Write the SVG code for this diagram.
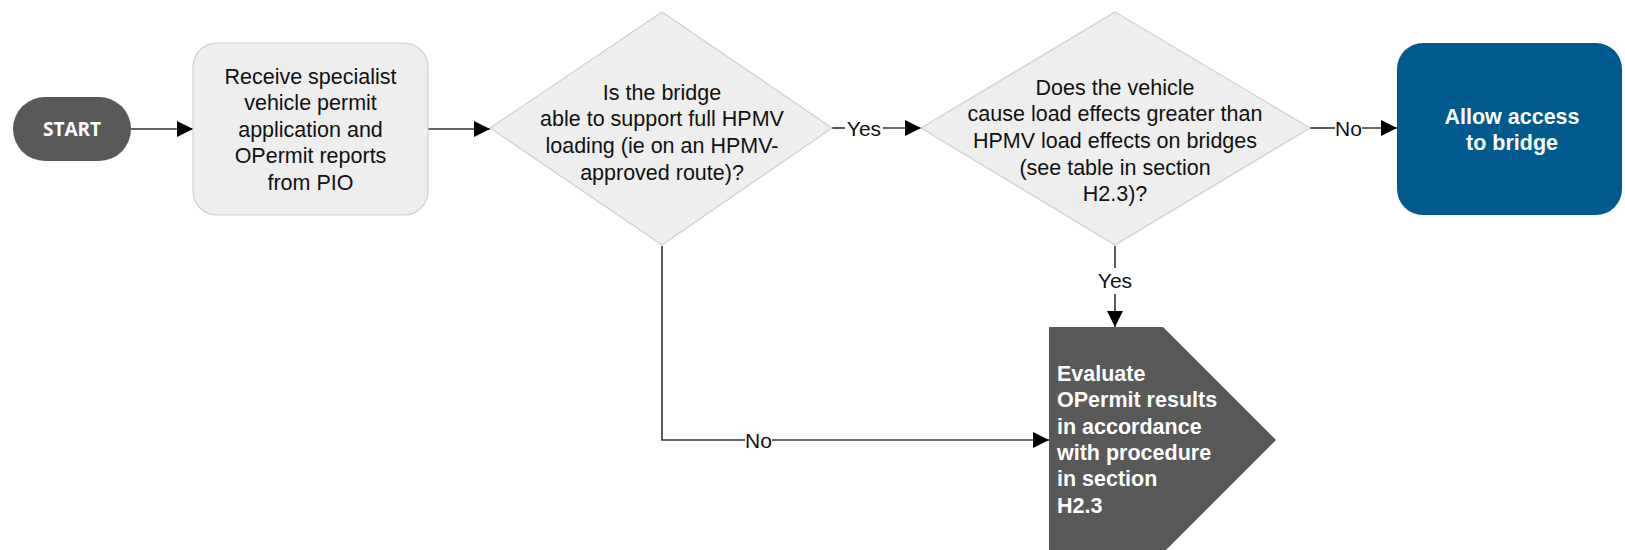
<svg xmlns="http://www.w3.org/2000/svg" width="1625" height="550" viewBox="0 0 1625 550">
<style>
.t{font-family:"Liberation Sans",Arial,sans-serif;font-size:21.5px;fill:#111;text-anchor:middle}
.w{font-family:"Liberation Sans",Arial,sans-serif;font-size:21.5px;font-weight:bold;fill:#fff}
.lbl{font-family:"Liberation Sans",Arial,sans-serif;font-size:21px;fill:#111;text-anchor:middle}
.light{fill:#eeeeee;stroke:#cfcfcf;stroke-width:1.2}
.ln{stroke:#333;stroke-width:1.6;fill:none}
</style>
<defs>
<marker id="ah" viewBox="0 0 16 16" refX="16" refY="8" markerWidth="16" markerHeight="16" markerUnits="userSpaceOnUse" orient="auto">
<path d="M0,0 L16,8 L0,16 Z" fill="#000"/>
</marker>
</defs>
<rect width="1625" height="550" fill="#fff"/>
<g id="connectors">
<line class="ln" x1="131" y1="129" x2="193" y2="129" marker-end="url(#ah)"/>
<line class="ln" x1="428" y1="129" x2="490" y2="129" marker-end="url(#ah)"/>
<line class="ln" x1="832" y1="128" x2="845" y2="128"/>
<text class="lbl" x="864" y="135.5">Yes</text>
<line class="ln" x1="883" y1="128" x2="921" y2="128" marker-end="url(#ah)"/>
<line class="ln" x1="1310" y1="128" x2="1335" y2="128"/>
<text class="lbl" x="1348.5" y="135.5">No</text>
<line class="ln" x1="1362" y1="128" x2="1397" y2="128" marker-end="url(#ah)"/>
<line class="ln" x1="1115" y1="246" x2="1115" y2="268"/>
<text class="lbl" x="1115" y="287.5">Yes</text>
<line class="ln" x1="1115" y1="294" x2="1115" y2="327" marker-end="url(#ah)"/>
<polyline class="ln" points="662,246 662,440 745,440"/>
<text class="lbl" x="758.5" y="447.5">No</text>
<line class="ln" x1="772" y1="440" x2="1049" y2="440" marker-end="url(#ah)"/>
</g>
<g id="start">
<rect x="13" y="97" width="118" height="64" rx="32" fill="#595959"/>
<text x="72" y="135.5" font-family="'Open Sans',sans-serif" font-size="19" font-weight="bold" fill="#fff" text-anchor="middle">START</text>
</g>
<g id="receive">
<rect class="light" x="193" y="43" width="235" height="172" rx="24"/>
<text class="t"><tspan x="310.5" y="83.5">Receive specialist</tspan><tspan x="310.5" y="110">vehicle permit</tspan><tspan x="310.5" y="136.5">application and</tspan><tspan x="310.5" y="163">OPermit reports</tspan><tspan x="310.5" y="189.5">from PIO</tspan></text>
</g>
<g id="decision1">
<polygon class="light" points="662,12 832,128 662,245 490,128"/>
<text class="t"><tspan x="662" y="99.5">Is the bridge</tspan><tspan x="662" y="125.5">able to support full HPMV</tspan><tspan x="662" y="152.5">loading (ie on an HPMV-</tspan><tspan x="662" y="179.5">approved route)?</tspan></text>
</g>
<g id="decision2">
<polygon class="light" points="1115,12 1310,128 1115,245 921,128"/>
<text class="t"><tspan x="1115" y="94.5">Does the vehicle</tspan><tspan x="1115" y="120.5">cause load effects greater than</tspan><tspan x="1115" y="147.5">HPMV load effects on bridges</tspan><tspan x="1115" y="174.5">(see table in section</tspan><tspan x="1115" y="200.5">H2.3)?</tspan></text>
</g>
<g id="allow">
<rect x="1397" y="43" width="225" height="172" rx="26" fill="#005A8E"/>
<text class="w" text-anchor="middle"><tspan x="1512" y="123.5">Allow access</tspan><tspan x="1512" y="149.5">to bridge</tspan></text>
</g>
<g id="evaluate">
<polygon points="1049,327 1163,327 1276,440 1163,553 1049,553" fill="#595959"/>
<text class="w"><tspan x="1057" y="380.5">Evaluate</tspan><tspan x="1057" y="406.5">OPermit results</tspan><tspan x="1057" y="433.5">in accordance</tspan><tspan x="1057" y="459.5">with procedure</tspan><tspan x="1057" y="485.5">in section</tspan><tspan x="1057" y="512.5">H2.3</tspan></text>
</g>
</svg>
